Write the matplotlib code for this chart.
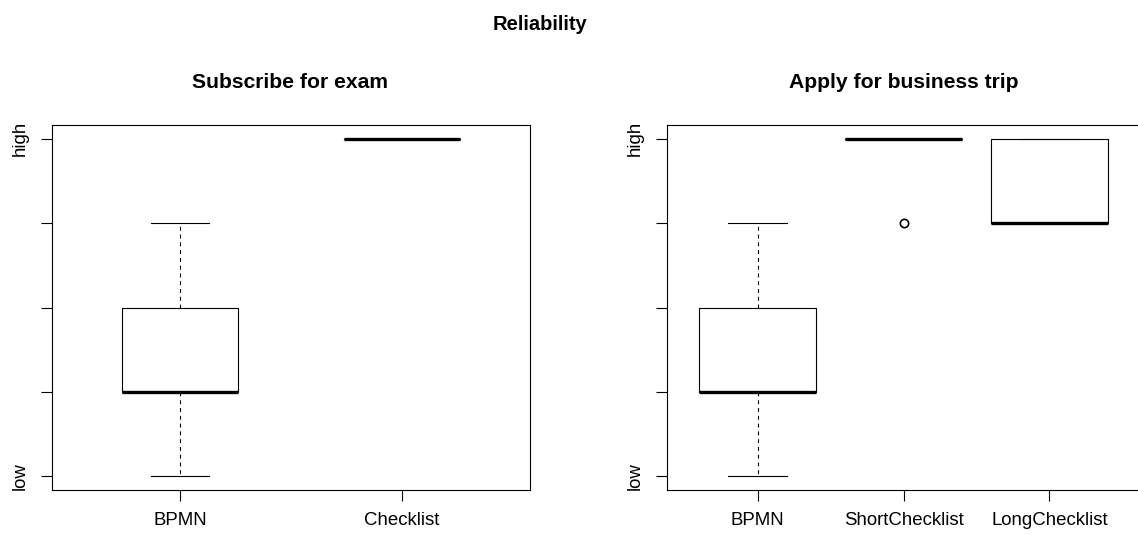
import matplotlib
matplotlib.use("Agg")
import matplotlib.pyplot as plt

plt.rcParams['font.family'] = ['Liberation Sans', 'DejaVu Sans']

# Data (ordinal reliability: 1 = low ... 5 = high)
y_ticks = [1, 2, 3, 4, 5]
y_ticklabels = ["low", "", "", "", "high"]

left_title = "Subscribe for exam"
left_groups = ["BPMN", "Checklist"]
left_whislo = [1, 5]
left_q1 = [2, 5]
left_med = [2, 5]
left_q3 = [3, 5]
left_whishi = [4, 5]
left_fliers = [[], []]

right_title = "Apply for business trip"
right_groups = ["BPMN", "ShortChecklist", "LongChecklist"]
right_whislo = [1, 5, 4]
right_q1 = [2, 5, 4]
right_med = [2, 5, 4]
right_q3 = [3, 5, 5]
right_whishi = [4, 5, 5]
right_fliers = [[], [4], []]

W, H = 1138, 535
fig = plt.figure(figsize=(W / 100, H / 100), dpi=100)

def px_axes(x0, x1, y0, y1):
    return fig.add_axes([x0 / W, (H - y1) / H, (x1 - x0) / W, (y1 - y0) / H])

def draw(ax, title, groups, wl, q1, med, q3, wh, fl, boxw, cx):
    n = len(groups)
    stats = []
    for i in range(n):
        stats.append(dict(whislo=wl[i], q1=q1[i], med=med[i], q3=q3[i],
                          whishi=wh[i], fliers=fl[i], label=groups[i]))
    pos = list(range(1, n + 1))
    ax.bxp(stats, positions=pos, widths=boxw, capwidths=boxw / 2,
           boxprops=dict(color='black', linewidth=0.8),
           medianprops=dict(color='black', linewidth=2.4, solid_capstyle='butt'),
           whiskerprops=dict(color='black', linewidth=0.8, linestyle=(0, (3.5, 3.5))),
           capprops=dict(color='black', linewidth=0.8),
           flierprops=dict(marker='o', markersize=6, markerfacecolor='none',
                           markeredgecolor='black', markeredgewidth=1.2),
           manage_ticks=False)
    ax.set_xlim(0.5 - 0.04 * n, n + 0.5 + 0.04 * n)
    ax.set_ylim(0.84, 5.16)
    ax.set_xticks(pos)
    ax.set_xticklabels(groups, fontsize=13.4)
    ax.set_yticks(y_ticks)
    ax.set_yticklabels(y_ticklabels, fontsize=13.4, rotation=90, va='center')
    ax.tick_params(axis='both', length=8, width=0.8, direction='out')
    ax.tick_params(axis='x', pad=8)
    ax.tick_params(axis='y', pad=9)
    for s in ax.spines.values():
        s.set_linewidth(0.8)
    fig.text(cx / W, 1 - 83 / H, title, ha='center', va='center',
             fontsize=15.2, fontweight='bold')

axL = px_axes(52, 530, 125, 490)
draw(axL, left_title, left_groups, left_whislo, left_q1, left_med, left_q3,
     left_whishi, left_fliers, 0.525, 290)

axR = px_axes(667, 1140, 125, 490)
draw(axR, right_title, right_groups, right_whislo, right_q1, right_med, right_q3,
     right_whishi, right_fliers, 0.8, 904)

fig.text(540 / W, 1 - 25 / H, "Reliability", ha='center', va='center',
         fontsize=14.5, fontweight='bold')

fig.savefig("out.png", dpi=100)
